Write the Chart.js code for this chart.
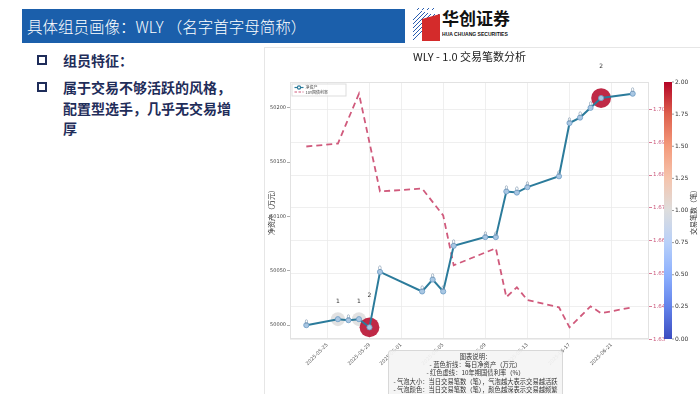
<!DOCTYPE html>
<html lang="zh">
<head>
<meta charset="utf-8">
<script src="https://cdn.jsdelivr.net/npm/chart.js@4.4.1/dist/chart.umd.min.js"></script>
<style>
  html, body { margin: 0; padding: 0; }
  body { width: 700px; height: 394px; position: relative; overflow: hidden; background: #fff;
         font-family: 'Noto Sans CJK SC', 'Noto Sans', sans-serif; }
  #titlebar { position: absolute; left: 22px; top: 9px; width: 383px; height: 34px; background: #1b5fab;
              color: #fff; font-size: 15.5px; font-weight: 300; line-height: 34px; padding-left: 5px; box-sizing: border-box; white-space: nowrap; }
  #logo { position: absolute; left: 413px; top: 8px; }
  #logoText { position: absolute; left: 442px; top: 5px; font-size: 17px; font-weight: bold; color: #111; letter-spacing: 0; }
  #logoSub { position: absolute; left: 442px; top: 31px; font-family: 'Liberation Sans', sans-serif; font-size: 5.6px;
             font-weight: bold; color: #111; white-space: nowrap; transform: scaleX(0.9); transform-origin: left top; }
  .bullet { position: absolute; left: 37px; width: 6px; height: 6px; border: 2px solid #1f2d5a; }
  .txt { position: absolute; left: 63px; font-size: 14px; font-weight: bold; color: #1f2d5a; line-height: 20.5px; white-space: nowrap; }
  #chartBox { position: absolute; left: 264px; top: 47px; width: 436px; height: 347px;
              border-left: 1px solid #e6e6e6; border-top: 1px solid #e6e6e6; box-sizing: border-box; }
  #chart { position: absolute; left: 265px; top: 47px; }
  #note { position: absolute; left: 388px; top: 350px; width: 175px; height: 50px; background: rgba(244,244,244,0.92);
          border: 1px solid #d8d8d8; border-radius: 3px; box-sizing: border-box; font-size: 6.3px; line-height: 8.2px;
          color: #333; text-align: center; padding-top: 2px; white-space: nowrap; }
</style>
</head>
<body>
<div id="titlebar">具体组员画像：WLY （名字首字母简称）</div>
<svg id="logo" width="28" height="33" viewBox="0 0 28 33">
  <g stroke="#2a5db0" stroke-width="1">
    <line x1="0" y1="12" x2="9" y2="3"/><line x1="0" y1="16" x2="12" y2="4"/>
    <line x1="0" y1="20" x2="15" y2="5"/><line x1="0" y1="24" x2="18" y2="6"/>
    <line x1="0" y1="28" x2="22" y2="6"/><line x1="0" y1="32" x2="26" y2="6"/>
    <line x1="4" y1="2" x2="6" y2="0"/><line x1="9" y1="2" x2="11" y2="0"/>
    <line x1="14" y1="2" x2="16" y2="0"/><line x1="19" y1="2" x2="21" y2="0"/>
  </g>
  <polygon points="9,11 27,6 27,33 9,33" fill="#d42b2b"/>
</svg>
<div id="logoText">华创证券</div>
<div id="logoSub">HUA CHUANG SECURITIES</div>

<div class="bullet" style="top:55px"></div>
<div class="txt" style="top:50px">组员特征：</div>
<div class="bullet" style="top:82px"></div>
<div class="txt" style="top:77px">属于交易不够活跃的风格，<br>配置型选手，几乎无交易增<br>厚</div>

<div id="chartBox"></div>
<canvas id="chart" width="435" height="347"></canvas>
<div id="note">图表说明：<br>- 蓝色折线：每日净资产（万元）<br>- 红色虚线：10年期国债利率（%）<br>- 气泡大小：当日交易笔数（笔），气泡越大表示交易越活跃<br>- 气泡颜色：当日交易笔数（笔），颜色越深表示交易越频繁</div>

<script>
// trading days, daily net asset (万元) and number of trades
const dates = ['2025-05-23', '2025-05-26', '2025-05-27', '2025-05-28', '2025-05-29', '2025-05-30',
               '2025-06-03', '2025-06-04', '2025-06-05', '2025-06-06',
               '2025-06-09', '2025-06-10', '2025-06-11', '2025-06-12', '2025-06-13',
               '2025-06-16', '2025-06-17', '2025-06-18', '2025-06-19', '2025-06-20', '2025-06-23'];
const netAsset = [50000, 50005.5, 50004.6, 50005.5, 49998, 50049,
                  50031, 50042, 50031, 50073,
                  50081, 50081, 50123, 50122, 50127,
                  50137, 50186, 50191, 50200, 50209, 50213];
const tradeCount = [0, 1, 0, 1, 2, 0,
                    0, 0, 0, 0,
                    0, 0, 0, 0, 0,
                    0, 0, 0, 0, 2, 0];

// 10Y treasury yield (%)
const rateDates = ['2025-05-23', '2025-05-26', '2025-05-28', '2025-05-30', '2025-06-03', '2025-06-05', '2025-06-06',
                   '2025-06-10', '2025-06-11', '2025-06-12', '2025-06-13', '2025-06-16', '2025-06-17',
                   '2025-06-19', '2025-06-20', '2025-06-23'];
const rateValues = [1.6887, 1.6896, 1.7048, 1.6750, 1.6759, 1.6677, 1.6525,
                    1.6577, 1.6428, 1.6458, 1.6419, 1.6397, 1.6336,
                    1.6400, 1.6379, 1.6397];

const xTickDates = ['2025-05-25', '2025-05-29', '2025-06-01', '2025-06-05', '2025-06-09', '2025-06-13', '2025-06-17', '2025-06-21'];
const leftTicks = [50000, 50050, 50100, 50150, 50200];
const rightTicks = [1.63, 1.64, 1.65, 1.66, 1.67, 1.68, 1.69, 1.70];
const cbarTicks = [0, 0.25, 0.5, 0.75, 1, 1.25, 1.5, 1.75, 2];

const base = Date.UTC(2025, 4, 23);
function dayOf(s) {
    const p = s.split('-');
    return (Date.UTC(+p[0], +p[1] - 1, +p[2]) - base) / 86400000;
}
function padRange(vals) {
    const lo = Math.min(...vals), hi = Math.max(...vals), m = (hi - lo) * 0.05;
    return [lo - m, hi + m];
}

// coolwarm colormap
const cw = [[59, 76, 192], [98, 130, 234], [141, 176, 254], [184, 208, 249], [221, 221, 221],
            [245, 196, 173], [244, 154, 123], [222, 96, 77], [180, 4, 38]];
function coolwarm(t, a) {
    const f = Math.max(0, Math.min(1, t)) * (cw.length - 1);
    const i = Math.min(cw.length - 2, Math.floor(f)), k = f - i;
    const c = cw[i].map((v, j) => Math.round(v + (cw[i + 1][j] - v) * k));
    return `rgba(${c[0]},${c[1]},${c[2]},${a})`;
}

const xRange = padRange(dates.map(dayOf));
const yRange = padRange(netAsset);
const y2Range = padRange(rateValues);

const blue = '#2b7b9b';
const red = '#d05a7c';

const navPoints = dates.map((d, i) => ({ x: dayOf(d), y: netAsset[i] }));
const ratePoints = rateDates.map((d, i) => ({ x: dayOf(d), y: rateValues[i] }));
const bubblePoints = [];
const bubbleColors = [];
dates.forEach((d, i) => {
    if (tradeCount[i] > 0) {
        bubblePoints.push({ x: dayOf(d), y: netAsset[i], r: 7 * Math.sqrt(tradeCount[i]) });
        bubbleColors.push(coolwarm(tradeCount[i] / 2, 0.85));
    }
});

const FONT = "'Noto Sans CJK SC', 'DejaVu Sans', sans-serif";

const extras = {
    id: 'extras',
    afterDatasetsDraw(chart) {
        const { ctx, chartArea: a, scales } = chart;
        const xs = scales.x, ys = scales.y;
        ctx.save();
        // plot frame
        ctx.strokeStyle = '#e2e2e2';
        ctx.lineWidth = 1;
        ctx.strokeRect(a.left + 0.5, a.top + 0.5, a.right - a.left - 1, a.bottom - a.top - 1);

        // trade count annotations
        ctx.textAlign = 'center';
        ctx.textBaseline = 'middle';
        dates.forEach((d, i) => {
            const px = xs.getPixelForValue(dayOf(d));
            const py = ys.getPixelForValue(netAsset[i]);
            if (tradeCount[i] === 0) {
                ctx.fillStyle = 'rgba(120,145,170,0.9)';
                ctx.font = "6px 'DejaVu Sans'";
                ctx.fillText('0', px, py - 3);
            } else {
                ctx.fillStyle = '#333';
                ctx.font = "6px 'DejaVu Sans'";
                ctx.fillText(String(tradeCount[i]), px, py - (4 + 14 * tradeCount[i]));
            }
        });

        // legend inside plot
        const lx = a.left + 1.5, ly = a.top + 1.5;
        ctx.fillStyle = 'rgba(255,255,255,0.9)';
        ctx.strokeStyle = '#dddddd';
        ctx.fillRect(lx, ly, 54, 12);
        ctx.strokeRect(lx + 0.5, ly + 0.5, 54, 12);
        ctx.lineWidth = 1.2;
        ctx.strokeStyle = blue;
        ctx.beginPath(); ctx.moveTo(lx + 3, ly + 4); ctx.lineTo(lx + 12, ly + 4); ctx.stroke();
        ctx.fillStyle = '#fff';
        ctx.beginPath(); ctx.arc(lx + 7.5, ly + 4, 1.6, 0, Math.PI * 2); ctx.fill(); ctx.stroke();
        ctx.strokeStyle = red;
        ctx.setLineDash([2.5, 1.5]);
        ctx.beginPath(); ctx.moveTo(lx + 3, ly + 8.5); ctx.lineTo(lx + 12, ly + 8.5); ctx.stroke();
        ctx.setLineDash([]);
        ctx.fillStyle = '#444';
        ctx.font = '4px ' + FONT;
        ctx.textAlign = 'left';
        ctx.fillText('净资产', lx + 14, ly + 4);
        ctx.fillText('10Y国债利率', lx + 14, ly + 8.5);
        ctx.restore();
    },
    afterDraw(chart) {
        const { ctx, chartArea: a } = chart;
        ctx.save();
        // colorbar
        const cx = 399, cw2 = 8, top = a.top, bot = a.bottom;
        const g = ctx.createLinearGradient(0, bot, 0, top);
        cw.forEach((c, i) => g.addColorStop(i / (cw.length - 1), `rgb(${c[0]},${c[1]},${c[2]})`));
        ctx.fillStyle = g;
        ctx.fillRect(cx, top, cw2, bot - top);
        ctx.strokeStyle = '#555';
        ctx.fillStyle = '#333';
        ctx.lineWidth = 0.6;
        ctx.font = "6px 'DejaVu Sans'";
        ctx.textAlign = 'left';
        ctx.textBaseline = 'middle';
        cbarTicks.forEach(t => {
            const py = bot - (t / 2) * (bot - top);
            ctx.beginPath(); ctx.moveTo(cx + cw2, py); ctx.lineTo(cx + cw2 + 2, py); ctx.stroke();
            ctx.fillText(t.toFixed(2), cx + cw2 + 3, py);
        });
        // colorbar label
        ctx.font = '7px ' + FONT;
        ctx.textAlign = 'center';
        ctx.save();
        ctx.translate(428, (top + bot) / 2);
        ctx.rotate(-Math.PI / 2);
        ctx.fillText('交易笔数（笔）', 0, 0);
        ctx.restore();
        // left axis title
        ctx.save();
        ctx.translate(6, (top + bot) / 2);
        ctx.rotate(-Math.PI / 2);
        ctx.fillText('净资产（万元）', 0, 0);
        ctx.restore();
        // chart title
        ctx.fillStyle = '#222';
        ctx.font = '11px ' + FONT;
        ctx.fillText('WLY - 1.0 交易笔数分析', (a.left + a.right) / 2, 10);
        ctx.restore();
    }
};

new Chart(document.getElementById('chart').getContext('2d'), {
    type: 'line',
    data: {
        datasets: [
            {
                type: 'line',
                label: '净资产',
                data: navPoints,
                yAxisID: 'y',
                borderColor: blue,
                borderWidth: 2,
                pointRadius: 2.6,
                pointBackgroundColor: '#a9c7e3',
                pointBorderColor: '#6d9cc4',
                pointBorderWidth: 0.8,
                tension: 0,
                order: 1
            },
            {
                type: 'line',
                label: '10Y国债利率',
                data: ratePoints,
                yAxisID: 'y2',
                borderColor: red,
                borderWidth: 1.8,
                borderDash: [6, 4],
                pointRadius: 0,
                tension: 0,
                order: 2
            },
            {
                type: 'bubble',
                label: '交易笔数',
                data: bubblePoints,
                yAxisID: 'y',
                backgroundColor: bubbleColors,
                borderWidth: 0,
                order: 3
            }
        ]
    },
    options: {
        responsive: false,
        animation: false,
        devicePixelRatio: 1,
        layout: { padding: { top: 35, left: 0, right: 0, bottom: 0 } },
        plugins: { legend: { display: false }, tooltip: { enabled: false }, title: { display: false } },
        scales: {
            x: {
                type: 'linear',
                min: xRange[0],
                max: xRange[1],
                afterFit: s => { s.height = 55; },
                afterBuildTicks: s => { s.ticks = xTickDates.map(d => ({ value: dayOf(d) })); },
                grid: { color: '#ebebeb', lineWidth: 0.8, tickLength: 0 },
                border: { display: false },
                ticks: {
                    autoSkip: false,
                    minRotation: 45,
                    maxRotation: 45,
                    padding: 3,
                    color: '#555',
                    font: { size: 5, family: 'DejaVu Sans' },
                    callback: v => xTickDates.find(d => dayOf(d) === v) || ''
                }
            },
            y: {
                type: 'linear',
                position: 'left',
                min: yRange[0],
                max: yRange[1],
                afterFit: s => { s.width = 25; },
                afterBuildTicks: s => { s.ticks = leftTicks.map(v => ({ value: v })); },
                grid: { drawOnChartArea: false, tickLength: 3, tickColor: '#777', lineWidth: 0.6 },
                border: { display: false },
                ticks: { padding: 1, color: '#444', font: { size: 5, family: 'DejaVu Sans' }, callback: v => String(v) }
            },
            y2: {
                type: 'linear',
                position: 'right',
                min: y2Range[0],
                max: y2Range[1],
                afterFit: s => { s.width = 51; },
                afterBuildTicks: s => { s.ticks = rightTicks.map(v => ({ value: v })); },
                grid: { drawOnChartArea: true, color: '#ebebeb', lineWidth: 0.8, tickLength: 3, tickColor: red },
                border: { display: false },
                ticks: { padding: 1, color: '#c9567a', font: { size: 5.5, family: 'DejaVu Sans' }, callback: v => v.toFixed(2) }
            }
        }
    },
    plugins: [extras]
});
</script>
</body>
</html>
